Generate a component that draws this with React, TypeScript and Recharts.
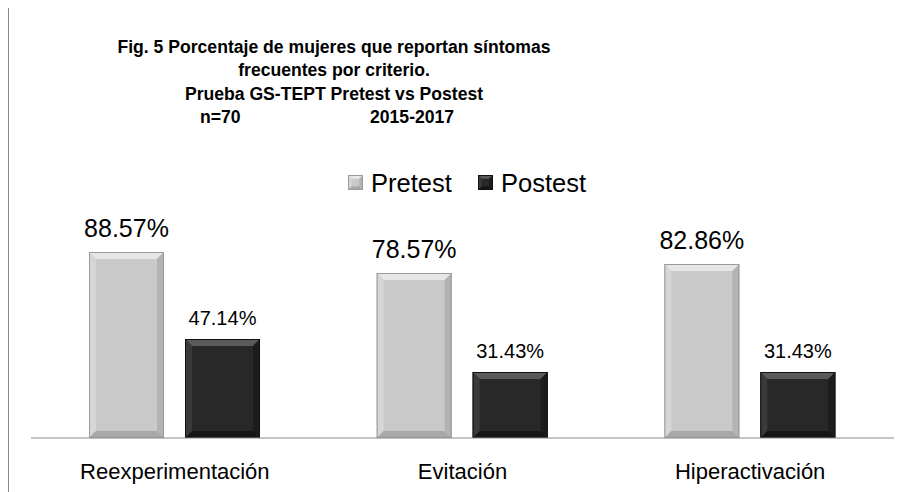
import React from "react";
import { BarChart, Bar, XAxis, YAxis, LabelList } from "recharts";

const categories = ["Reexperimentación", "Evitación", "Hiperactivación"];
const pretest = [88.57, 78.57, 82.86];
const postest = [47.14, 31.43, 31.43];
const seriesNames = ["Pretest", "Postest"];
const titleLines = [
  "Fig. 5 Porcentaje de mujeres que reportan síntomas",
  "frecuentes por criterio.",
  "Prueba GS-TEPT Pretest vs Postest",
];
const sampleLabel = "n=70";
const yearsLabel = "2015-2017";

const data = categories.map((name, i) => ({
  name,
  pretest: pretest[i],
  postest: postest[i],
}));

const FONT = "'Liberation Sans', Arial, sans-serif";

const palettes: Record<string, any> = {
  light: { base: "#c9c9c9", top: "#e6e6e6", left: "#d6d6d6", right: "#b3b3b3", bottom: "#a8a8a8", edge: "#9a9a9a" },
  dark: { base: "#282828", top: "#5a5a5a", left: "#3a3a3a", right: "#1c1c1c", bottom: "#151515", edge: "#111111" },
};

function BevelRect({ x, y, width, height, tone }: any) {
  const p = palettes[tone];
  const b = Math.min(7, width / 4, height / 4);
  const x2 = x + width;
  const y2 = y + height;
  const pts = (a: number[][]) => a.map((q) => q.join(",")).join(" ");
  return (
    <g>
      <rect x={x} y={y} width={width} height={height} fill={p.base} />
      <polygon points={pts([[x, y], [x2, y], [x2 - b, y + b], [x + b, y + b]])} fill={p.top} />
      <polygon points={pts([[x, y], [x + b, y + b], [x + b, y2 - b], [x, y2]])} fill={p.left} />
      <polygon points={pts([[x2, y], [x2, y2], [x2 - b, y2 - b], [x2 - b, y + b]])} fill={p.right} />
      <polygon points={pts([[x, y2], [x2, y2], [x2 - b, y2 - b], [x + b, y2 - b]])} fill={p.bottom} />
      <rect x={x + 0.5} y={y + 0.5} width={width - 1} height={height - 1} fill="none" stroke={p.edge} strokeWidth={1} />
    </g>
  );
}

const PreShape = (props: any) => <BevelRect {...props} tone="light" />;
const PostShape = (props: any) => <BevelRect {...props} tone="dark" />;

function makeLabel(size: number, gap: number) {
  return (props: any) => {
    const { x, y, width, value } = props;
    return (
      <text
        x={x + width / 2}
        y={y - gap}
        textAnchor="middle"
        dominantBaseline="central"
        fontFamily={FONT}
        fontSize={size}
        fill="#000"
      >
        {value.toFixed(2)}%
      </text>
    );
  };
}

function CategoryTick({ x, payload }: any) {
  return (
    <text x={x} y={463} textAnchor="middle" dominantBaseline="central" fontFamily={FONT} fontSize={22} fill="#000">
      {payload.value}
    </text>
  );
}

function LegendBox() {
  const tones = ["light", "dark"];
  return (
    <svg width={260} height={30} style={{ position: "absolute", left: 339, top: 160 }}>
      {seriesNames.map((label, i) => {
        const ox = i * 130;
        return (
          <g key={label}>
            <BevelRect x={ox} y={7} width={15} height={15} tone={tones[i]} />
            <text x={ox + 23} y={15} dominantBaseline="central" fontFamily={FONT} fontSize={25.5} fill="#000">
              {label}
            </text>
          </g>
        );
      })}
    </svg>
  );
}

export default function App() {
  return (
    <div
      style={{
        position: "relative",
        width: 893,
        height: 484,
        marginTop: -1,
        borderLeft: "1px solid #8a8a8a",
        borderTop: "1px solid #8a8a8a",
        background: "#fff",
        fontFamily: FONT,
      }}
    >
      <div
        style={{
          position: "absolute",
          left: 0,
          width: 650,
          top: 28,
          textAlign: "center",
          fontWeight: "bold",
          fontSize: 17.6,
          lineHeight: "23.3px",
          color: "#000",
        }}
      >
        {titleLines.map((t) => (
          <div key={t}>{t}</div>
        ))}
        <div style={{ position: "relative", height: 23, textAlign: "left" }}>
          <span style={{ position: "absolute", left: 191 }}>{sampleLabel}</span>
          <span style={{ position: "absolute", left: 361 }}>{yearsLabel}</span>
        </div>
      </div>
      <div style={{ position: "absolute", left: 0, top: 0 }}>
        <BarChart
          width={893}
          height={484}
          data={data}
          margin={{ top: 220, right: 8, left: 22, bottom: 0 }}
          barSize={75}
          barGap={21}
        >
          <XAxis
            dataKey="name"
            height={54}
            axisLine={{ stroke: "#8a8a8a", strokeWidth: 1 }}
            tickLine={false}
            tick={<CategoryTick />}
            interval={0}
          />
          <YAxis hide domain={[0, 100]} />
          <Bar dataKey="pretest" name={seriesNames[0]} shape={<PreShape />} isAnimationActive={false}>
            <LabelList dataKey="pretest" content={makeLabel(25, 24)} />
          </Bar>
          <Bar dataKey="postest" name={seriesNames[1]} shape={<PostShape />} isAnimationActive={false}>
            <LabelList dataKey="postest" content={makeLabel(20, 21)} />
          </Bar>
        </BarChart>
      </div>
      <LegendBox />
    </div>
  );
}
